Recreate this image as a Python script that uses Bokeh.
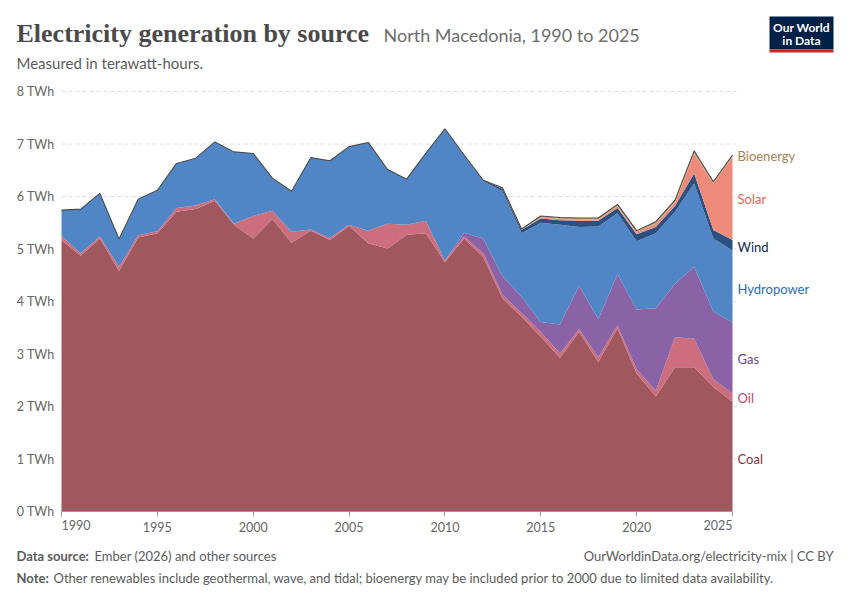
import numpy as np
from bokeh.plotting import figure
from bokeh.models import Range1d, Label, BoxAnnotation, FixedTicker, CustomJSTickFormatter, ColumnDataSource
from bokeh.core.properties import value
from bokeh.embed import file_html
from bokeh.resources import INLINE

years = list(range(1990, 2026))
coal = [5.17, 4.87, 5.20, 4.58, 5.22, 5.30, 5.71, 5.76, 5.92, 5.46, 5.20, 5.57, 5.12, 5.35, 5.17, 5.44, 5.11, 5.01,
        5.27, 5.30, 4.75, 5.20, 4.85, 4.06, 3.71, 3.33, 2.93, 3.42, 2.85, 3.49, 2.63, 2.19, 2.75, 2.75, 2.37, 2.09]
oil = [0.08, 0.05, 0.04, 0.08, 0.04, 0.04, 0.07, 0.07, 0.03, 0.02, 0.43, 0.16, 0.21, 0.02, 0.04, 0.02, 0.24, 0.47,
       0.19, 0.24, 0.03, 0.04, 0.07, 0.07, 0.07, 0.09, 0.08, 0.05, 0.09, 0.06, 0.08, 0.11, 0.57, 0.54, 0.15, 0.16]
gas = [0, 0, 0, 0, 0, 0, 0, 0, 0, 0, 0, 0, 0, 0, 0, 0, 0, 0,
       0, 0, 0, 0.07, 0.28, 0.35, 0.31, 0.19, 0.55, 0.83, 0.72, 0.97, 1.14, 1.57, 1.02, 1.37, 1.29, 1.35]
hydro = [0.49, 0.84, 0.82, 0.53, 0.69, 0.78, 0.85, 0.90, 1.09, 1.37, 1.19, 0.62, 0.77, 1.37, 1.47, 1.49, 1.68, 1.04,
         0.87, 1.28, 2.51, 1.48, 1.09, 1.62, 1.21, 1.89, 1.90, 1.12, 1.77, 1.16, 1.30, 1.43, 1.37, 1.59, 1.39, 1.37]
wind = [0] * 22 + [0.02, 0.05, 0.06, 0.08, 0.09, 0.12, 0.11, 0.10, 0.13, 0.12, 0.11, 0.19, 0.16, 0.20]
solar = [0] * 23 + [0.005, 0.01, 0.02, 0.02, 0.02, 0.02, 0.03, 0.03, 0.06, 0.06, 0.37, 0.89, 1.58]
bioenergy = [0] * 23 + [0.01, 0.01, 0.03, 0.03, 0.03, 0.03, 0.04, 0.04, 0.04, 0.05, 0.06, 0.03, 0.04]

series_names = ["Coal", "Oil", "Gas", "Hydropower", "Wind", "Solar", "Bioenergy"]
series_values = [coal, oil, gas, hydro, wind, solar, bioenergy]
fill_colors = ["#A0585E", "#CC6E7E", "#8A63A7", "#5186C6", "#2C5080", "#EE8A79", "#C9A177"]
label_colors = ["#883039", "#C4495E", "#6E3F96", "#2C6BC1", "#0B2A55", "#E2664F", "#A8804F"]
label_page_y = [458, 397, 358, 288, 246, 198, 155]

y_ticks = [0, 1, 2, 3, 4, 5, 6, 7, 8]
x_ticks = [1990, 1995, 2000, 2005, 2010, 2015, 2020, 2025]
x_first, x_last = years[0], years[-1]

W, H = 850, 600
FL, FR, FT, FB = 61, 732, 91, 511  # plot area in page pixels
xs = (x_last - x_first) / (FR - FL)
ys = 8.0 / (FB - FT)

p = figure(width=W, height=H, output_backend="svg", toolbar_location=None,
           x_range=Range1d(x_first - FL * xs, x_last + (W - FR) * xs),
           y_range=Range1d(-(H - FB) * ys, FB * ys),
           min_border_left=0, min_border_right=0, min_border_top=0, min_border_bottom=0)
p.outline_line_color = None
p.background_fill_color = "white"
p.border_fill_color = "white"

# grid lines (from y ticks) spanning the plot width
p.xgrid.visible = False
p.ygrid.visible = False
grid_end = x_last + 4 * xs
p.segment(x0=[x_first] * (len(y_ticks) - 1), x1=[grid_end] * (len(y_ticks) - 1),
          y0=y_ticks[1:], y1=y_ticks[1:], line_color="#dcdcdc", line_dash="4 3", line_width=1)

x = np.array(years, dtype=float)
base = np.zeros(len(years))
for name, vals, col in zip(series_names, series_values, fill_colors):
    top = base + np.array(vals)
    p.varea(x=x, y1=base, y2=top, fill_color=col, fill_alpha=1.0)
    base = top
p.line(x=x, y=base, line_color="#4a4a4a", line_width=1.1)

# axes placed at the plot origin
p.yaxis.fixed_location = x_first
p.yaxis.bounds = (0, 8)
p.yaxis.ticker = FixedTicker(ticks=y_ticks)
p.yaxis.formatter = CustomJSTickFormatter(code="return tick + ' TWh';")
p.yaxis.axis_line_color = None
p.yaxis.major_tick_line_color = None
p.yaxis.minor_tick_line_color = None
p.yaxis.major_label_text_font = "Lato"
p.yaxis.major_label_text_font_size = "12.5px"
p.yaxis.major_label_text_color = "#666666"
p.yaxis.major_label_standoff = 1

p.xaxis.fixed_location = 0
p.xaxis.bounds = (x_first, x_last)
p.xaxis.ticker = FixedTicker(ticks=x_ticks)
p.xaxis.major_label_overrides = {x_first: "", x_last: ""}
p.xaxis.axis_line_color = "#999999"
p.xaxis.major_tick_line_color = "#999999"
p.xaxis.major_tick_in = 0
p.xaxis.major_tick_out = 5
p.xaxis.minor_tick_line_color = None
p.xaxis.major_label_text_font = "Lato"
p.xaxis.major_label_text_font_size = "12.5px"
p.xaxis.major_label_text_color = "#666666"
p.xaxis.major_label_standoff = 5

# first and last year labels aligned to the ends of the axis
end_src = ColumnDataSource(dict(x=[x_first, x_last], y=[0, 0], text=[str(x_first), str(x_last)],
                                align=["left", "right"]))
p.text(x="x", y="y", text="text", text_align="align", source=end_src, y_offset=13,
       text_font=value("Lato"), text_font_size=value("12.5px"), text_color="#666666",
       text_baseline="middle")


def sy(y):
    return H - y


def label(px, py, text, **kw):
    opts = dict(text_font="Lato", text_font_size="13px", text_color="#5b5b5b", text_baseline="middle",
                text_align="left")
    opts.update(kw)
    p.add_layout(Label(x=px, y=sy(py), x_units="screen", y_units="screen", text=text, **opts))


# series labels on the right
for name, col, yy in zip(series_names, label_colors, label_page_y):
    label(737, yy, name, text_color=col, text_font_size="13px")

# header
label(16, 33, "Electricity generation by source", text_color="#4a4a4a", text_font="Liberation Serif",
      text_font_style="bold", text_font_size="26px")
label(383, 34, "North Macedonia, 1990 to 2025", text_color="#6e6e6e", text_font_size="18px")
label(16, 62, "Measured in terawatt-hours.", text_font_size="15px")

# logo
p.add_layout(BoxAnnotation(left=769, right=833, top=sy(16), bottom=sy(49), left_units="screen",
                           right_units="screen", top_units="screen", bottom_units="screen",
                           fill_color="#002147", fill_alpha=1.0, line_color=None))
p.add_layout(BoxAnnotation(left=769, right=833, top=sy(49), bottom=sy(52), left_units="screen",
                           right_units="screen", top_units="screen", bottom_units="screen",
                           fill_color="#CE261E", fill_alpha=1.0, line_color=None))
label(801, 27, "Our World", text_color="white", text_font_style="bold", text_font_size="12px", text_align="center")
label(801, 39.5, "in Data", text_color="white", text_font_style="bold", text_font_size="12px", text_align="center")

# footer
label(16, 555, "Data source:", text_font_style="bold")
label(94, 555, "Ember (2026) and other sources")
label(833, 555, "OurWorldinData.org/electricity-mix | CC BY", text_align="right")
label(16, 577, "Note:", text_font_style="bold")
label(53, 577, "Other renewables include geothermal, wave, and tidal; bioenergy may be included prior to 2000 "
               "due to limited data availability.")

open("out.html", "w").write(file_html(p, INLINE))
